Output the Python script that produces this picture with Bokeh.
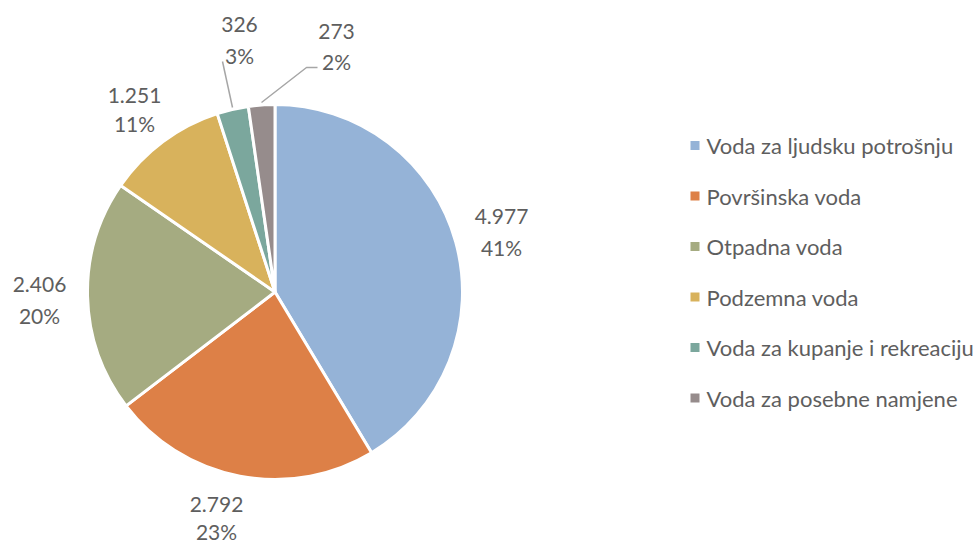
import math
from bokeh.plotting import figure
from bokeh.models import Range1d, ColumnDataSource
from bokeh.core.properties import value
from bokeh.embed import file_html
from bokeh.resources import INLINE

# ---- data ----
categories = ["Voda za ljudsku potrošnju", "Površinska voda", "Otpadna voda",
              "Podzemna voda", "Voda za kupanje i rekreaciju", "Voda za posebne namjene"]
values = [4977, 2792, 2406, 1251, 326, 273]
value_labels = ["4.977", "2.792", "2.406", "1.251", "326", "273"]
pct_labels = ["41%", "23%", "20%", "11%", "3%", "2%"]
colors = ["#95B3D7", "#DD8047", "#A5AB81", "#D8B25C", "#7BA79D", "#968C8C"]

# ---- layout (page pixel coordinates) ----
W, H = 979, 545
def py(y):  # page y -> data y
    return H - y

cx, cy, R = 274.5, 291.5, 187.5
label_x = [501, 216, 39, 134, 239, 336]
label_vy = [215.5, 503.5, 283.5, 95, 24, 31]
label_py = [247, 531, 314.5, 123, 55, 61]
leg_x, leg_text_x = 694.5, 706
leg_y = [145, 195.5, 246, 296.5, 347, 397.5]

TEXT = "#5E5E5E"
FONT = "Lato"

p = figure(width=W, height=H, output_backend="svg", toolbar_location=None,
           x_range=Range1d(0, W), y_range=Range1d(0, H),
           min_border=0)
p.axis.visible = False
p.grid.visible = False
p.outline_line_color = None
p.background_fill_color = "white"
p.border_fill_color = "white"

total = float(sum(values))
starts, ends = [], []
cum = 0.0
for v in values:
    starts.append(math.pi / 2 - 2 * math.pi * cum / total)
    cum += v
    ends.append(math.pi / 2 - 2 * math.pi * cum / total)

src = ColumnDataSource(dict(start=starts, end=ends, color=colors))
p.wedge(x=cx, y=py(cy), radius=R, start_angle="start", end_angle="end",
        direction="clock", fill_color="color", line_color="white", line_width=3,
        source=src)

# leader lines for small slices
p.line(x=[222, 232], y=[py(61), py(107)], line_color="#A6A6A6", line_width=1.5)
p.line(x=[317, 306, 261], y=[py(67), py(67), py(102)], line_color="#A6A6A6", line_width=1.5)

# data labels
lab = ColumnDataSource(dict(x=label_x, vy=[py(v) for v in label_vy],
                            pyy=[py(v) for v in label_py],
                            vt=value_labels, pt=pct_labels))
p.text(x="x", y="vy", text="vt", source=lab, text_align="center", text_baseline="middle",
       text_font=value(FONT), text_font_size="21px", text_color=TEXT)
p.text(x="x", y="pyy", text="pt", source=lab, text_align="center", text_baseline="middle",
       text_font=value(FONT), text_font_size="21px", text_color=TEXT)

# legend
leg = ColumnDataSource(dict(x=[leg_x] * len(categories), tx=[leg_text_x] * len(categories),
                            y=[py(v) for v in leg_y], name=categories, color=colors))
p.rect(x="x", y="y", width=9, height=9, fill_color="color", line_color=None, source=leg)
p.text(x="tx", y="y", text="name", source=leg, text_align="left", text_baseline="middle",
       text_font=value(FONT), text_font_size="22px", text_color=TEXT)

open("out.html", "w").write(file_html(p, INLINE))
